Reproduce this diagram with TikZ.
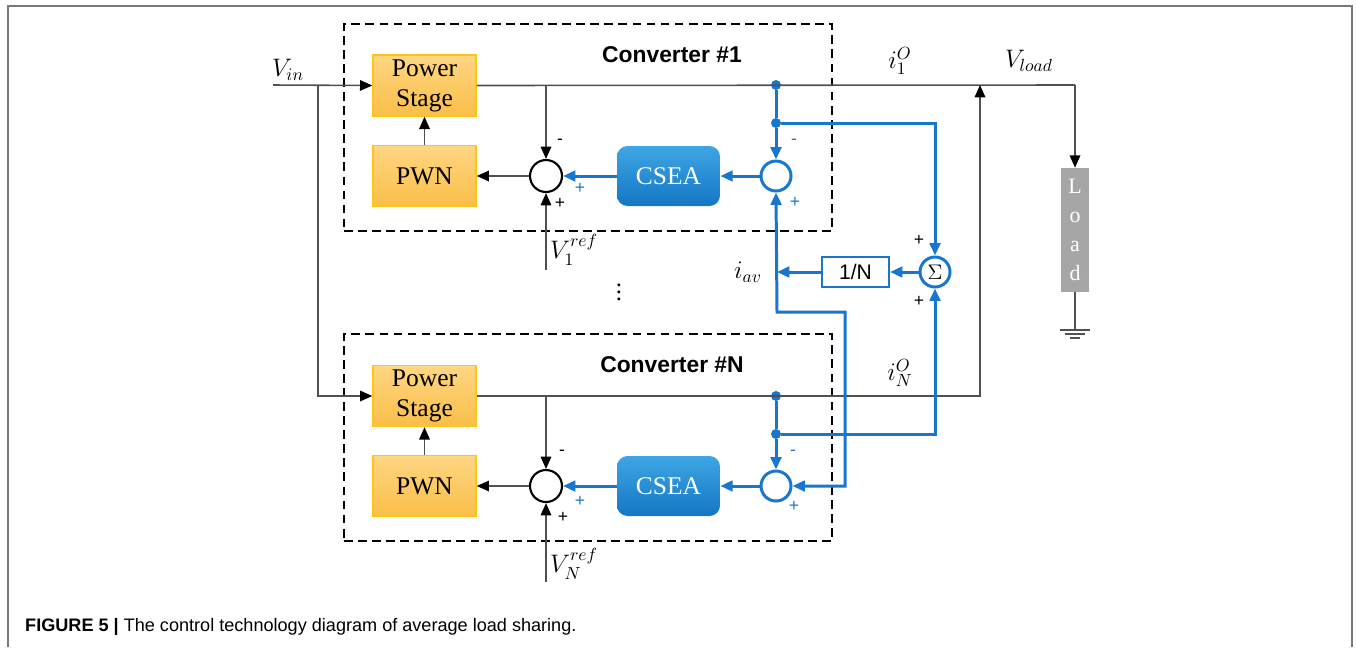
\documentclass[tikz,border=0pt]{standalone}
\usepackage{fontspec}
\setmainfont{Liberation Serif}
\setsansfont{Liberation Sans}
\usepackage{amsmath}
\usepackage{amssymb}
\usetikzlibrary{arrows.meta}

\definecolor{ctrlblue}{RGB}{24,118,206}
\definecolor{cseatop}{RGB}{62,166,228}
\definecolor{cseabot}{RGB}{20,118,196}
\definecolor{stageline}{RGB}{255,196,20}
\definecolor{stagetop}{RGB}{255,214,130}
\definecolor{stagebot}{RGB}{249,190,72}
\definecolor{wiregray}{RGB}{80,80,80}
\definecolor{loadgray}{RGB}{166,166,166}
\definecolor{framegray}{RGB}{120,120,120}

\tikzset{
  wire/.style={draw=wiregray, line width=0.9pt, >={Triangle[length=7pt,width=6pt,color=black]}},
  bwire/.style={draw=ctrlblue, line width=1.7pt, >={Triangle[length=7pt,width=6pt]}},
  stagebox/.style={draw=stageline, line width=0.8pt, top color=stagetop, bottom color=stagebot,
    minimum width=2.06cm, minimum height=1.22cm, inner sep=0pt, align=center,
    font=\fontsize{14.5}{17}\selectfont},
  cseabox/.style={rounded corners=6pt, top color=cseatop, bottom color=cseabot, draw=none,
    text=white, minimum width=2.06cm, minimum height=1.2cm, inner sep=0pt,
    font=\fontsize{14.5}{17}\selectfont},
  sumblack/.style={circle, draw=black, line width=1.2pt, minimum size=0.64cm, inner sep=0pt},
  sumblue/.style={circle, draw=ctrlblue, line width=1.7pt, minimum size=0.6cm, inner sep=0pt},
  tapdot/.style={circle, fill=ctrlblue, minimum size=0.2cm, inner sep=0pt},
  convbox/.style={draw=black, line width=1.2pt, dash pattern=on 5pt off 3pt,
    minimum width=9.76cm, minimum height=4.14cm, inner sep=0pt},
  sign/.style={font=\sffamily\fontsize{10}{12}\selectfont, inner sep=0pt},
  bsign/.style={sign, text=ctrlblue},
  mathlabel/.style={font=\fontsize{14}{16}\selectfont, inner sep=1pt},
}

\begin{document}
\begin{tikzpicture}[x=0.02cm, y=-0.02cm]
  \useasboundingbox (0,0) rectangle (1356,647);
  \draw[framegray, line width=1.2pt] (8,647) -- (8,6) -- (1352,6) -- (1352,647);

  % converter boxes
  \node[convbox] (conv1) at (588,127.5) {};
  \node[convbox] (convN) at (588,437.5) {};
  \node[font=\sffamily\bfseries\fontsize{13}{15}\selectfont] (title1) at (672,55) {Converter \#1};
  \node[font=\sffamily\bfseries\fontsize{13}{15}\selectfont] (titleN) at (672,365) {Converter \#N};

  \begin{scope}[every node/.style={stagebox}]
    \node (ps1) at (424.5,85.5) {Power\\Stage};
    \node (pwn1) at (424.5,176) {PWN};
    \node (psN) at (424.5,396) {Power\\Stage};
    \node (pwnN) at (424.5,486) {PWN};
  \end{scope}
  \node[cseabox] (csea1) at (668.5,176) {CSEA};
  \node[cseabox] (cseaN) at (668.5,486) {CSEA};
  \node[sumblack] (sb1) at (546,176) {};
  \node[sumblack] (sbN) at (546,486) {};
  \node[sumblue] (cb1) at (776,176) {};
  \node[sumblue] (cbN) at (776,486) {};
  \node[sumblue, font=\fontsize{13}{15}\selectfont] (sigma) at (935,272) {$\Sigma$};
  \node[draw=ctrlblue, line width=1.2pt, minimum width=1.34cm, minimum height=0.6cm, inner sep=0pt,
    font=\sffamily\fontsize{12}{14}\selectfont] (avg) at (855.5,272) {1/N};
  \node[fill=loadgray, text=white, minimum width=0.56cm, minimum height=2.48cm, inner sep=0pt,
    align=center, font=\fontsize{12.5}{16.5}\selectfont] (load) at (1075,230) {L\\o\\a\\d};

  \node[tapdot] (d11) at (776,85) {};
  \node[tapdot] (d12) at (776,123) {};
  \node[tapdot] (dN1) at (776,396) {};
  \node[tapdot] (dN2) at (776,434) {};

  \coordinate (vin) at (273,85);
  \coordinate (split) at (318,85);
  \coordinate (tap1) at (546,85);
  \coordinate (tapN) at (546,396);
  \coordinate (ref1) at (546,270);
  \coordinate (refN) at (546,582);
  \coordinate (out1) at (1075,85);
  \coordinate (join1) at (980,85);
  \coordinate (joinN) at (980,396);
  \coordinate (iav) at (777,272);
  \coordinate (bend1) at (777,312);
  \coordinate (bend2) at (845,312);
  \coordinate (bend3) at (845,486);
  \coordinate (gnd) at (1075,330);

  % power path
  \draw[wire,->] (vin) -- (ps1.west);
  \draw[wire,->] (split) |- (psN.west);
  \draw[wire] (ps1.east) -- (out1);
  \draw[wire,->] (out1) -- (load.north);
  \draw[wire,->] (psN.east) -- (joinN) -- (join1);
  \draw[wire] (load.south) -- (gnd);
  \draw[wire, line width=1.2pt] (gnd) ++(-15,0) -- ++(30,0)
    (gnd) ++(-10,4) -- ++(20,0) (gnd) ++(-5,8) -- ++(10,0);

  % voltage loops
  \draw (pwn1) edge [wire,->] (ps1);
  \draw (pwnN) edge [wire,->] (psN);
  \draw (sb1) edge [wire,->] (pwn1);
  \draw (sbN) edge [wire,->] (pwnN);
  \draw (tap1) edge [wire,->] (sb1.north);
  \draw (tapN) edge [wire,->] (sbN.north);
  \draw (ref1) edge [wire,->] (sb1.south);
  \draw (refN) edge [wire,->] (sbN.south);

  % current sharing loops
  \draw[bwire] (d11) -- (d12);
  \draw[bwire] (dN1) -- (dN2);
  \draw (d12) edge [bwire,->] (cb1.north);
  \draw (dN2) edge [bwire,->] (cbN.north);
  \draw (cb1) edge [bwire,->] (csea1);
  \draw (cbN) edge [bwire,->] (cseaN);
  \draw (csea1) edge [bwire,->] (sb1);
  \draw (cseaN) edge [bwire,->] (sbN);
  \draw[bwire,->] (d12) -| (sigma.north);
  \draw[bwire,->] (dN2) -| (sigma.south);
  \draw (sigma) edge [bwire,->] (avg);
  \draw (avg) edge [bwire,->] (iav);
  \draw[bwire,<->] (cb1.south) -- (bend1) -- (bend2) -- (bend3) -- (cbN.east);

  % labels
  \node[mathlabel] (lvin) at (288,70) {$V_{in}$};
  \node[mathlabel] (li1) at (900,61) {$i_1^{O}$};
  \node[mathlabel] (lvload) at (1029,61) {$V_{load}$};
  \node[mathlabel] (liN) at (900,373) {$i_N^{O}$};
  \node[mathlabel, anchor=west] (lref1) at (548,250) {$V_1^{ref}$};
  \node[mathlabel, anchor=west] (lrefN) at (548,564) {$V_N^{ref}$};
  \node[mathlabel] (liav) at (748,272) {$i_{av}$};
  \node[mathlabel] (ldots) at (619,287) {$\vdots$};

  \node[sign] (m11) at (560,142) {-};
  \node[sign] (p11) at (560,203) {+};
  \node[bsign] (p12) at (580,188) {+};
  \node[bsign] (m12) at (794,142) {-};
  \node[bsign] (p13) at (795,202) {+};
  \node[sign] (mN1) at (562,453) {-};
  \node[sign] (pN1) at (563,517) {+};
  \node[bsign] (pN2) at (580,501) {+};
  \node[bsign] (mN2) at (793,453) {-};
  \node[bsign] (pN3) at (794,506) {+};
  \node[sign] (ps1s) at (919,240) {+};
  \node[sign] (ps2s) at (919,301) {+};

  \node[anchor=west, font=\sffamily\fontsize{10.3}{12}\selectfont] (caption) at (19,627)
    {\textbf{FIGURE 5 |} The control technology diagram of average load sharing.};
\end{tikzpicture}
\end{document}
